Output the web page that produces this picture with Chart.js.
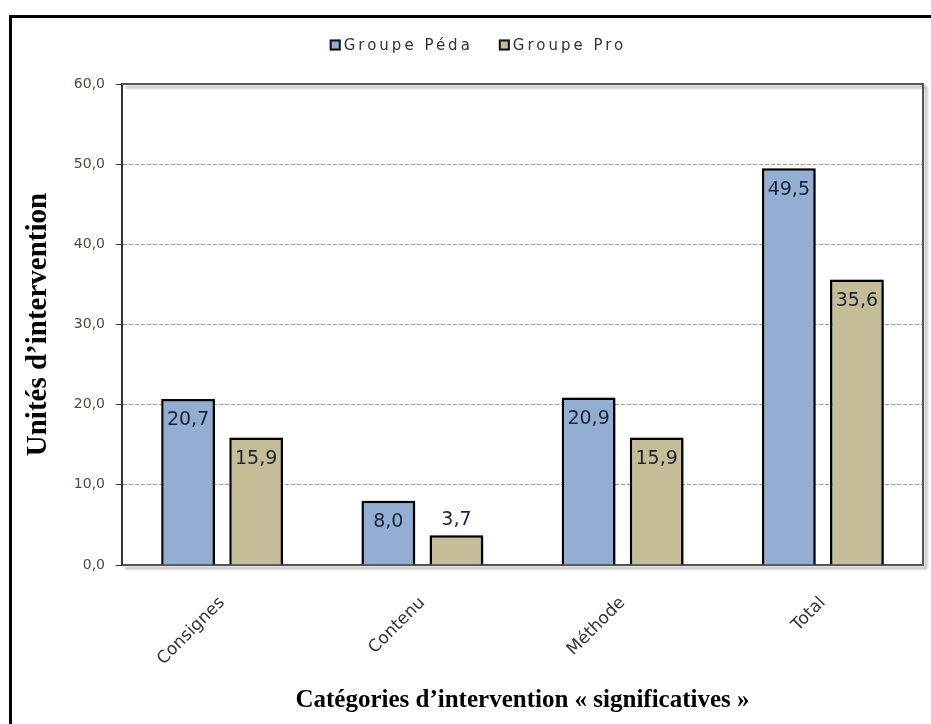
<!DOCTYPE html>
<html>
<head>
<meta charset="utf-8">
<script src="https://cdn.jsdelivr.net/npm/chart.js@4"></script>
<style>
  html, body { margin: 0; padding: 0; background: #fff; }
  body { width: 931px; height: 724px; overflow: hidden; position: relative; }
  #frame { position: absolute; left: 9px; top: 15px; width: 960px; height: 800px; border: 3px solid #000; }
  #chart { position: absolute; left: 0; top: 0; }
</style>
</head>
<body>
<div id="frame"></div>
<canvas id="chart" width="931" height="724"></canvas>
<script>
// chart data
const categories = ['Consignes', 'Contenu', 'Méthode', 'Total'];
const groupPeda = [20.7, 8.0, 20.9, 49.5];
const groupPro = [15.9, 3.7, 15.9, 35.6];
const seriesNames = ['Groupe Péda', 'Groupe Pro'];
const seriesColors = ['#93aed3', '#c4bd97'];

const fmt = v => v.toFixed(1).replace('.', ',');

// frame + shadow behind the plot area
const plotFrame = {
  id: 'plotFrame',
  beforeDatasetsDraw(chart) {
    const { ctx, chartArea: a } = chart;
    ctx.save();
    ctx.strokeStyle = '#555';
    ctx.lineWidth = 2;
    ctx.shadowColor = 'rgba(0,0,0,0.35)';
    ctx.shadowOffsetX = 3;
    ctx.shadowOffsetY = 3;
    ctx.shadowBlur = 3;
    ctx.beginPath();
    ctx.moveTo(a.left, a.top);
    ctx.lineTo(a.right, a.top);
    ctx.lineTo(a.right, a.bottom);
    ctx.lineTo(a.left, a.bottom);
    ctx.stroke();
    ctx.restore();
  }
};

// drop shadow on the bars
const barShadow = {
  id: 'barShadow',
  beforeDatasetDraw(chart) {
    const ctx = chart.ctx;
    ctx.save();
    ctx.shadowColor = 'rgba(0,0,0,0.4)';
    ctx.shadowOffsetX = 3;
    ctx.shadowOffsetY = 1;
    ctx.shadowBlur = 4;
  },
  afterDatasetDraw(chart) {
    chart.ctx.restore();
  }
};

// value labels at the top of the bars
const valueLabels = {
  id: 'valueLabels',
  afterDatasetsDraw(chart) {
    const ctx = chart.ctx;
    ctx.save();
    ctx.font = '19px "DejaVu Sans"';
    ctx.fillStyle = '#1c2333';
    ctx.textAlign = 'center';
    chart.data.datasets.forEach((ds, i) => {
      chart.getDatasetMeta(i).data.forEach((bar, j) => {
        const txt = fmt(ds.data[j]);
        if (bar.base - bar.y > 40) {
          ctx.textBaseline = 'top';
          ctx.fillText(txt, bar.x, bar.y + 12);
        } else {
          ctx.textBaseline = 'bottom';
          ctx.fillText(txt, bar.x, bar.y - 6);
        }
      });
    });
    ctx.restore();
  }
};

// legend drawn at the top, letter spaced like the original
const topLegend = {
  id: 'topLegend',
  afterDraw(chart) {
    const ctx = chart.ctx;
    ctx.save();
    ctx.font = '15px "DejaVu Sans"';
    if ('letterSpacing' in ctx) ctx.letterSpacing = '3px';
    const box = 11, gap = 3, itemGap = 26;
    const widths = seriesNames.map(n => ctx.measureText(n).width);
    const total = widths.reduce((s, w) => s + box + gap + w, 0) + itemGap;
    let x = 478 - total / 2;
    const y = 45;
    seriesNames.forEach((n, i) => {
      ctx.fillStyle = seriesColors[i];
      ctx.fillRect(x, y - box / 2, box, box);
      ctx.strokeStyle = '#111';
      ctx.lineWidth = 2;
      ctx.strokeRect(x + 1, y - box / 2 + 1, box - 2, box - 2);
      ctx.fillStyle = '#333';
      ctx.textBaseline = 'middle';
      ctx.textAlign = 'left';
      ctx.fillText(n, x + box + gap, y + 1);
      x += box + gap + widths[i] + itemGap;
    });
    ctx.restore();
  }
};

new Chart(document.getElementById('chart'), {
  type: 'bar',
  data: {
    labels: categories,
    datasets: [
      {
        label: seriesNames[0],
        data: groupPeda,
        backgroundColor: seriesColors[0],
        borderColor: '#000',
        borderWidth: 2.5
      },
      {
        label: seriesNames[1],
        data: groupPro,
        backgroundColor: seriesColors[1],
        borderColor: '#000',
        borderWidth: 2.5
      }
    ]
  },
  options: {
    responsive: false,
    animation: false,
    categoryPercentage: 0.68,
    barPercentage: 0.79,
    layout: { padding: { left: 0, top: 84, right: 8, bottom: 0 } },
    plugins: {
      legend: { display: false },
      tooltip: { enabled: false }
    },
    scales: {
      x: {
        grid: { display: false },
        border: { color: '#333', width: 2 },
        ticks: {
          minRotation: 45,
          maxRotation: 45,
          padding: 20,
          color: '#333',
          font: { family: 'DejaVu Sans', size: 17 }
        },
        title: {
          display: true,
          text: 'Catégories d’intervention « significatives »',
          color: '#000',
          font: { family: 'Liberation Serif', size: 25, weight: 'bold' },
          padding: { top: 0, bottom: 8 }
        },
        afterFit(scale) { scale.height = 724 - 565; }
      },
      y: {
        min: 0,
        max: 60,
        ticks: {
          stepSize: 10,
          padding: 11,
          color: '#4f4a38',
          font: { family: 'DejaVu Sans', size: 14 },
          callback: v => fmt(v)
        },
        grid: {
          color: '#9a9a9a',
          tickColor: '#333',
          tickLength: 6,
          tickBorderDash: []
        },
        border: { color: '#333', width: 2, dash: [4, 2] },
        title: {
          display: true,
          text: 'Unités d’intervention',
          color: '#000',
          font: { family: 'Liberation Serif', size: 29, weight: 'bold' },
          padding: { top: 21, bottom: 0 }
        },
        afterFit(scale) { scale.width = 122; }
      }
    }
  },
  plugins: [plotFrame, barShadow, valueLabels, topLegend]
});
</script>
</body>
</html>
